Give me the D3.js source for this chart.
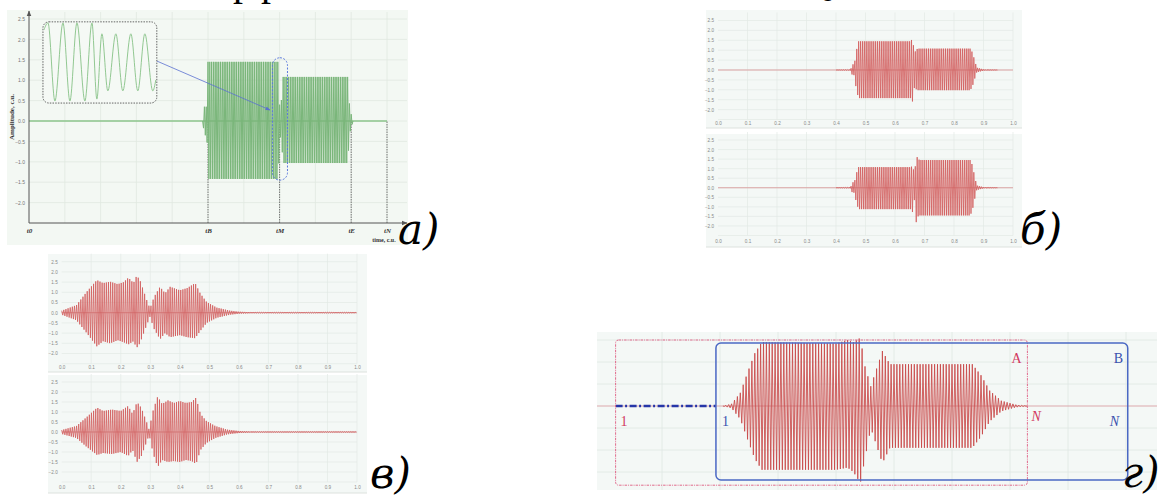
<!DOCTYPE html>
<html>
<head>
<meta charset="utf-8">
<script src="https://cdnjs.cloudflare.com/ajax/libs/d3/7.8.5/d3.min.js"></script>
<style>
body { margin: 0; background: #fff; }
svg { display: block; }
</style>
</head>
<body>
<div id="chart"></div>
<script>
// ---------- data ----------
var ampTicks = [-2.0, -1.5, -1.0, -0.5, 0.0, 0.5, 1.0, 1.5, 2.0, 2.5];
var timeTicks = [0.0, 0.1, 0.2, 0.3, 0.4, 0.5, 0.6, 0.7, 0.8, 0.9, 1.0];

// panel a: time marks and envelope of the green signal
var aMarkNames = ["t0", "tB", "tM", "tE", "tN"];
var aMarkT = [0, 5, 7, 9, 10];
var aEnvT  = [4.85, 4.9, 4.97, 5.0, 6.96, 7.0, 7.04, 7.1, 8.9, 8.96, 9.05];
var aEnvUp = [0, 0.35, 0.35, 1.45, 1.45, 0.4, 0.4, 1.08, 1.08, 0.3, 0];
var aEnvLo = [0, -0.35, -0.35, -1.42, -1.42, -0.4, -0.4, -1.03, -1.03, -0.3, 0];
var aPeriod = 0.05;
// zoomed inset: extrema of the sine (relative position, relative value)
var insetT = [0, 0.036, 0.098, 0.17, 0.232, 0.295, 0.366, 0.429, 0.473, 0.518, 0.571, 0.643, 0.705, 0.777, 0.839, 0.902, 0.973, 1.0];
var insetV = [0.82, 1, -1, 1, -1, 1, -1, 1, -0.95, 0.72, -0.74, 0.72, -0.74, 0.72, -0.74, 0.72, -0.74, -0.46];

// panel б
var b1EnvT  = [0.40, 0.45, 0.456, 0.462, 0.468, 0.476, 0.655, 0.660, 0.664, 0.670, 0.676, 0.855, 0.862, 0.870, 0.877, 0.90, 0.95];
var b1EnvUp = [0, 0.03, 0.3, 0.25, 0.9, 1.45, 1.45, 1.78, 0.9, 0.95, 1.08, 1.08, 0.9, 0.5, 0.12, 0.03, 0];
var b1EnvLo = [0, -0.03, -0.3, -0.25, -0.9, -1.42, -1.42, -1.62, -0.9, -0.95, -1.02, -1.02, -0.85, -0.45, -0.12, -0.03, 0];
var b2EnvT  = [0.40, 0.45, 0.456, 0.462, 0.468, 0.476, 0.655, 0.660, 0.666, 0.672, 0.678, 0.684, 0.855, 0.862, 0.870, 0.877, 0.90, 0.95];
var b2EnvUp = [0, 0.03, 0.3, 0.25, 0.7, 1.08, 1.08, 1.2, 0.6, 1.72, 1.5, 1.45, 1.45, 1.2, 0.6, 0.12, 0.03, 0];
var b2EnvLo = [0, -0.03, -0.3, -0.25, -0.7, -1.12, -1.12, -1.3, -0.6, -1.8, -1.5, -1.45, -1.45, -1.2, -0.6, -0.12, -0.03, 0];
var bPeriod = 0.0064;

// panel в
var c1EnvT  = [0.0, 0.05, 0.085, 0.119, 0.14, 0.164, 0.19, 0.21, 0.226, 0.243, 0.254, 0.265, 0.288, 0.299, 0.313, 0.333, 0.35, 0.367, 0.40, 0.424, 0.452, 0.469, 0.491, 0.525, 0.57, 0.60, 0.65, 1.0];
var c1EnvUp = [0.1, 0.37, 1.03, 1.6, 1.45, 1.52, 1.4, 1.5, 1.72, 1.45, 1.82, 1.6, 0.62, 0.2, 0.78, 1.27, 0.95, 1.27, 1.1, 1.2, 1.45, 0.95, 0.52, 0.25, 0.1, 0.05, 0.02, 0.02];
var c1EnvLo = [-0.1, -0.37, -1.0, -1.65, -1.4, -1.5, -1.35, -1.45, -1.55, -1.4, -1.72, -1.5, -0.6, -0.2, -0.8, -1.3, -1.0, -1.2, -1.1, -1.2, -1.25, -0.9, -0.5, -0.25, -0.1, -0.05, -0.02, -0.02];
var c2EnvT  = [0.0, 0.05, 0.085, 0.12, 0.14, 0.17, 0.2, 0.225, 0.24, 0.255, 0.27, 0.29, 0.296, 0.31, 0.325, 0.34, 0.36, 0.38, 0.40, 0.42, 0.44, 0.455, 0.47, 0.49, 0.52, 0.56, 0.60, 0.65, 1.0];
var c2EnvUp = [0.1, 0.3, 0.75, 1.22, 1.05, 1.12, 1.05, 1.3, 0.9, 1.5, 1.2, 0.4, 0.12, 1.1, 1.78, 1.4, 1.58, 1.45, 1.55, 1.45, 1.5, 1.72, 0.9, 0.55, 0.3, 0.12, 0.05, 0.02, 0.02];
var c2EnvLo = [-0.1, -0.3, -0.75, -1.15, -1.05, -1.1, -1.0, -1.2, -0.9, -1.5, -1.2, -0.4, -0.12, -1.1, -1.75, -1.4, -1.5, -1.45, -1.5, -1.4, -1.45, -1.6, -0.9, -0.55, -0.3, -0.12, -0.05, -0.02, -0.02];
var cPeriod = 0.0072;

// panel г (sample axis in grid units)
var dEnvT  = [2.05, 2.2, 2.35, 2.5, 2.6, 2.72, 4.0, 4.2, 4.3, 4.42, 4.5, 4.6, 4.7, 4.8, 4.93, 6.35, 6.5, 6.65, 6.85, 7.1, 7.3];
var dEnvUp = [0.0, 0.05, 0.3, 0.85, 1.2, 1.45, 1.42, 1.5, 1.45, 1.55, 0.9, 0.45, 0.85, 1.25, 0.95, 0.95, 0.7, 0.35, 0.12, 0.03, 0];
var dEnvLo = [0, -0.05, -0.3, -0.85, -1.2, -1.45, -1.45, -1.4, -1.5, -1.75, -1.2, -0.5, -0.9, -1.3, -0.95, -0.95, -0.7, -0.35, -0.12, -0.03, 0];
var dPeriod = 0.05;
var dWinA = [0.2, 7.3];
var dWinB = [1.93, 9.03];

// ---------- drawing ----------
var svg = d3.select("#chart").append("svg")
    .attr("width", 1171)
    .attr("height", 495);

var defs = svg.append("defs");
function marker(id, color) {
  defs.append("marker")
      .attr("id", id)
      .attr("viewBox", "0 0 10 10")
      .attr("refX", 9).attr("refY", 5)
      .attr("markerWidth", 6).attr("markerHeight", 6)
      .attr("orient", "auto")
    .append("path")
      .attr("d", "M0,1L10,5L0,9Z")
      .attr("fill", color);
}
marker("arrDark", "#555");
marker("arrBlue", "#5a70d0");

// alternate peaks between upper and lower envelope, one half-period apart
function carrier(envT, envUp, envLo, period) {
  var up = d3.scaleLinear().domain(envT).range(envUp);
  var lo = d3.scaleLinear().domain(envT).range(envLo);
  var t0 = envT[0], t1 = envT[envT.length - 1];
  var n = Math.floor((t1 - t0) / (period / 2));
  return d3.range(n + 1).map(function(k) {
    var t = t0 + k * period / 2;
    return [t, k % 2 ? lo(t) : up(t)];
  });
}

function styleTicks(sel, size, color) {
  sel.select(".domain").remove();
  sel.selectAll("text")
      .attr("font-size", size)
      .attr("font-family", "Liberation Sans, Arial, sans-serif")
      .attr("fill", color);
}

// cut-off line of text at the very top (only descenders are visible)
svg.append("g").selectAll("text")
    .data([[233, "р"], [261, "р"], [803, "Q"]])
  .join("text")
    .attr("x", function(d) { return d[0]; })
    .attr("y", -5)
    .attr("font-family", "Liberation Serif, serif")
    .attr("font-size", 40)
    .text(function(d) { return d[1]; });

// ===== panel а =====
var pa = svg.append("g");
pa.append("rect")
    .attr("x", 7).attr("y", 10).attr("width", 401).attr("height", 235)
    .attr("fill", "#f3f8f3");

var ax = d3.scaleLinear().domain([0, 10]).range([29, 387]);
var ay = d3.scaleLinear().domain([-2.5, 2.5]).range([223, 19]);

pa.append("g").selectAll("line").data(ampTicks).join("line")
    .attr("x1", 29).attr("x2", 407)
    .attr("y1", function(d) { return ay(d); })
    .attr("y2", function(d) { return ay(d); })
    .attr("stroke", "#e0e9e0").attr("stroke-width", 0.8);
pa.append("g").selectAll("line").data(d3.range(1, 11)).join("line")
    .attr("x1", function(d) { return ax(d); })
    .attr("x2", function(d) { return ax(d); })
    .attr("y1", 12).attr("y2", 223)
    .attr("stroke", "#e0e9e0").attr("stroke-width", 0.8);

// y tick labels
pa.append("g")
    .attr("transform", "translate(29,0)")
    .call(d3.axisLeft(ay).tickValues(ampTicks).tickFormat(d3.format(".1f")).tickSize(0).tickPadding(4))
    .call(styleTicks, 5, "#777");

// time marks
pa.append("g")
    .attr("transform", "translate(0,223)")
    .call(d3.axisBottom(ax).tickValues(aMarkT).tickFormat(function(d, i) { return aMarkNames[i]; }).tickSize(0).tickPadding(5))
    .call(function(g) {
      g.select(".domain").remove();
      g.selectAll("text")
          .attr("font-family", "Liberation Serif, serif")
          .attr("font-style", "italic")
          .attr("font-weight", "bold")
          .attr("font-size", 7)
          .attr("fill", "#333");
    });

// dashed drop lines from the marks
pa.append("g").selectAll("line").data(aMarkT.slice(1)).join("line")
    .attr("x1", function(d) { return ax(d); })
    .attr("x2", function(d) { return ax(d); })
    .attr("y1", ay(-2.5)).attr("y2", ay(0))
    .attr("stroke", "#555").attr("stroke-width", 0.8)
    .attr("stroke-dasharray", "1.5,1");

// zero line and signal
pa.append("line")
    .attr("x1", ax(0)).attr("x2", ax(10))
    .attr("y1", ay(0)).attr("y2", ay(0))
    .attr("stroke", "#8cc48c").attr("stroke-width", 1.4);

var aLine = d3.line()
    .x(function(d) { return ax(d[0]); })
    .y(function(d) { return ay(d[1]); });
pa.append("path")
    .datum(carrier(aEnvT, aEnvUp, aEnvLo, aPeriod))
    .attr("d", aLine)
    .attr("fill", "none")
    .attr("stroke", "#7ab67a")
    .attr("stroke-width", 1);

// axes with arrows
pa.append("line")
    .attr("x1", 29).attr("x2", 407).attr("y1", 223).attr("y2", 223)
    .attr("stroke", "#555").attr("stroke-width", 1)
    .attr("marker-end", "url(#arrDark)");
pa.append("line")
    .attr("x1", 29).attr("x2", 29).attr("y1", 223).attr("y2", 11)
    .attr("stroke", "#555").attr("stroke-width", 1)
    .attr("marker-end", "url(#arrDark)");

pa.append("text")
    .attr("transform", "translate(14,117) rotate(-90)")
    .attr("text-anchor", "middle")
    .attr("font-family", "Liberation Serif, serif")
    .attr("font-weight", "bold")
    .attr("font-size", 7)
    .attr("fill", "#333")
    .text("Amplitude, c.u.");
pa.append("text")
    .attr("x", 384).attr("y", 242)
    .attr("text-anchor", "middle")
    .attr("font-family", "Liberation Serif, serif")
    .attr("font-weight", "bold")
    .attr("font-size", 6)
    .attr("fill", "#333")
    .text("time, c.u.");

// highlight around tM, arrow and zoomed inset
pa.append("rect")
    .attr("x", ax(6.8)).attr("y", ay(1.55))
    .attr("width", ax(7.22) - ax(6.8)).attr("height", ay(-1.45) - ay(1.55))
    .attr("rx", 7.5)
    .attr("fill", "none")
    .attr("stroke", "#5a78dd").attr("stroke-width", 1)
    .attr("stroke-dasharray", "2,1.5");

var inX0 = ax(0.39), inX1 = ax(3.57), inY0 = ay(2.43), inY1 = ay(0.44);
pa.append("line")
    .attr("x1", inX1).attr("y1", ay(1.47))
    .attr("x2", ax(6.73)).attr("y2", ay(0.27))
    .attr("stroke", "#5a70d0").attr("stroke-width", 0.8)
    .attr("marker-end", "url(#arrBlue)");
pa.append("rect")
    .attr("x", inX0).attr("y", inY0)
    .attr("width", inX1 - inX0).attr("height", inY1 - inY0)
    .attr("rx", 6)
    .attr("fill", "#f5f9f5")
    .attr("stroke", "#555").attr("stroke-width", 0.9)
    .attr("stroke-dasharray", "1.5,1.2");
var ix = d3.scaleLinear().domain([0, 1]).range([inX0 + 1, inX1 - 1]);
var iy = d3.scaleLinear().domain([-1, 1]).range([inY1 - 2, inY0 + 1]);
pa.append("path")
    .datum(d3.zip(insetT, insetV))
    .attr("d", d3.line().x(function(d) { return ix(d[0]); }).y(function(d) { return iy(d[1]); }).curve(d3.curveMonotoneX))
    .attr("fill", "none")
    .attr("stroke", "#92c892")
    .attr("stroke-width", 1);

// ===== small charts (б, в) =====
function smallChart(o) {
  var g = svg.append("g");
  var x = d3.scaleLinear().domain([0, 1]).range([o.x0, o.x1]);
  var y = d3.scaleLinear().domain([-2.5, 2.5]).range([o.yBot, o.yTop]);

  g.append("rect")
      .attr("x", o.bx).attr("y", o.by).attr("width", o.bw).attr("height", o.bh)
      .attr("fill", "#f4f8f6");
  g.append("line")
      .attr("x1", o.bx).attr("x2", o.bx + o.bw)
      .attr("y1", o.by + o.bh).attr("y2", o.by + o.bh)
      .attr("stroke", "#dde2de").attr("stroke-width", 1);

  g.append("g").selectAll("line").data([-2.5].concat(ampTicks)).join("line")
      .attr("x1", o.x0).attr("x2", o.x1)
      .attr("y1", function(d) { return y(d); })
      .attr("y2", function(d) { return y(d); })
      .attr("stroke", "#e3e9e5").attr("stroke-width", 0.7);
  g.append("g").selectAll("line").data(timeTicks.slice(1)).join("line")
      .attr("x1", function(d) { return x(d); })
      .attr("x2", function(d) { return x(d); })
      .attr("y1", o.yTop - 8).attr("y2", o.yBot)
      .attr("stroke", "#e3e9e5").attr("stroke-width", 0.7);

  g.append("g")
      .attr("transform", "translate(" + o.x0 + ",0)")
      .call(d3.axisLeft(y).tickValues(ampTicks).tickFormat(d3.format(".1f")).tickSize(0).tickPadding(4))
      .call(styleTicks, 4.6, "#888");
  g.append("g")
      .attr("transform", "translate(0," + o.yBot + ")")
      .call(d3.axisBottom(x).tickValues(timeTicks).tickFormat(d3.format(".1f")).tickSize(0).tickPadding(o.pad))
      .call(styleTicks, 4.6, "#888");

  g.append("line")
      .attr("x1", x(0)).attr("x2", x(1))
      .attr("y1", y(0)).attr("y2", y(0))
      .attr("stroke", "#dba3a3").attr("stroke-width", 1);

  g.append("path")
      .datum(carrier(o.envT, o.envUp, o.envLo, o.period))
      .attr("d", d3.line().x(function(d) { return x(d[0]); }).y(function(d) { return y(d[1]); }))
      .attr("fill", "none")
      .attr("stroke", "#d25c5c")
      .attr("stroke-width", 0.8);
}

smallChart({ bx: 706, by: 10, bw: 316, bh: 118, x0: 718, x1: 1013, yTop: 20.5, yBot: 119.5, pad: 2.5,
             envT: b1EnvT, envUp: b1EnvUp, envLo: b1EnvLo, period: bPeriod });
smallChart({ bx: 706, by: 134, bw: 316, bh: 113, x0: 718, x1: 1013, yTop: 140, yBot: 235.5, pad: 4,
             envT: b2EnvT, envUp: b2EnvUp, envLo: b2EnvLo, period: bPeriod });
smallChart({ bx: 48, by: 254, bw: 319, bh: 118, x0: 61.7, x1: 357, yTop: 261.7, yBot: 363.7, pad: 2.5,
             envT: c1EnvT, envUp: c1EnvUp, envLo: c1EnvLo, period: cPeriod });
smallChart({ bx: 48, by: 375, bw: 319, bh: 118, x0: 61.7, x1: 357, yTop: 382, yBot: 482, pad: 4,
             envT: c2EnvT, envUp: c2EnvUp, envLo: c2EnvLo, period: cPeriod });

// ===== panel г =====
var pd = svg.append("g");
var dx = d3.scaleLinear().domain([0, 10]).range([604, 1184]);
var dy = d3.scaleLinear().domain([-1.5, 1.5]).range([472, 340]);

pd.append("rect")
    .attr("x", 597).attr("y", 332).attr("width", 560).attr("height", 158)
    .attr("fill", "#f4f8f6");
pd.append("g").selectAll("line").data([-1.5, -1.0, -0.5, 0.5, 1.0, 1.5]).join("line")
    .attr("x1", 597).attr("x2", 1157)
    .attr("y1", function(d) { return dy(d); })
    .attr("y2", function(d) { return dy(d); })
    .attr("stroke", "#e0e7e3").attr("stroke-width", 0.8);
pd.append("g").selectAll("line").data(d3.range(1, 10)).join("line")
    .attr("x1", function(d) { return dx(d); })
    .attr("x2", function(d) { return dx(d); })
    .attr("y1", 332).attr("y2", 490)
    .attr("stroke", "#e0e7e3").attr("stroke-width", 0.8);

pd.append("line")
    .attr("x1", 597).attr("x2", 1157)
    .attr("y1", dy(0)).attr("y2", dy(0))
    .attr("stroke", "#dba8ab").attr("stroke-width", 1.2);

pd.append("path")
    .datum(carrier(dEnvT, dEnvUp, dEnvLo, dPeriod))
    .attr("d", d3.line().x(function(d) { return dx(d[0]); }).y(function(d) { return dy(d[1]); }))
    .attr("fill", "none")
    .attr("stroke", "#c94848")
    .attr("stroke-width", 0.85);

// leading offset between the two windows
pd.append("line")
    .attr("x1", dx(dWinA[0])).attr("x2", dx(dWinB[0]))
    .attr("y1", dy(0)).attr("y2", dy(0))
    .attr("stroke", "#2636a8").attr("stroke-width", 2.4)
    .attr("stroke-dasharray", "7,2.5,2,2.5");

// windows A and B
pd.append("rect")
    .attr("x", dx(dWinA[0])).attr("y", dy(1.5))
    .attr("width", dx(dWinA[1]) - dx(dWinA[0])).attr("height", dy(-1.8) - dy(1.5))
    .attr("rx", 3)
    .attr("fill", "none")
    .attr("stroke", "#e06a8c").attr("stroke-width", 1)
    .attr("stroke-dasharray", "2.5,1,1,1");
pd.append("rect")
    .attr("x", dx(dWinB[0])).attr("y", dy(1.43))
    .attr("width", dx(dWinB[1]) - dx(dWinB[0])).attr("height", dy(-1.68) - dy(1.43))
    .attr("rx", 5)
    .attr("fill", "none")
    .attr("stroke", "#4a68c4").attr("stroke-width", 1.5);

var red = "#d2385e", blue = "#3a52ae";
function dLabel(xp, yp, txt, color, italic) {
  pd.append("text")
      .attr("x", xp).attr("y", yp)
      .attr("font-family", "Liberation Serif, serif")
      .attr("font-style", italic ? "italic" : "normal")
      .attr("font-size", 14)
      .attr("fill", color)
      .text(txt);
}
dLabel(dx(dWinA[0]) + 5, 426, "1", red, false);
dLabel(dx(dWinB[0]) + 6, 426, "1", blue, false);
dLabel(dx(dWinA[1]) + 4, 421, "N", red, true);
dLabel(dx(dWinB[1]) - 18, 426, "N", blue, true);
dLabel(dx(dWinA[1]) - 16, 363, "A", red, false);
dLabel(dx(dWinB[1]) - 14, 363, "B", blue, false);

// ===== panel letters =====
svg.append("g").selectAll("text")
    .data([[398, 244, "а)"], [1020, 244, "б)"], [370, 488, "в)"], [1122, 487, "г)"]])
  .join("text")
    .attr("x", function(d) { return d[0]; })
    .attr("y", function(d) { return d[1]; })
    .attr("font-family", "DejaVu Serif, serif")
    .attr("font-style", "italic")
    .attr("font-size", 42)
    .attr("fill", "#000")
    .text(function(d) { return d[2]; });
</script>
</body>
</html>
